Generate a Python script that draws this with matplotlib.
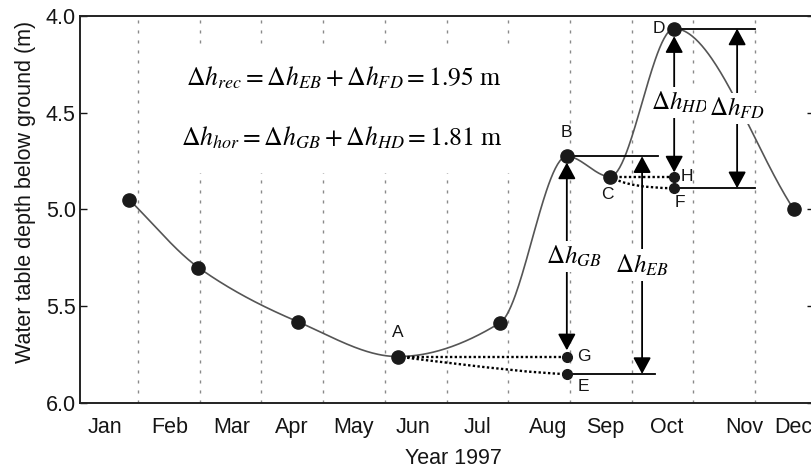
import numpy as np
import matplotlib
matplotlib.use('Agg')
import matplotlib.pyplot as plt
from matplotlib.patches import Rectangle, PathPatch
from matplotlib.path import Path

plt.rcParams['font.family'] = ['Liberation Sans', 'DejaVu Sans']
plt.rcParams['mathtext.fontset'] = 'stix'

# x in month units: 1 = start of Feb, 2 = start of Mar, ...
months = ['Jan', 'Feb', 'Mar', 'Apr', 'May', 'Jun', 'Jul', 'Aug', 'Sep', 'Oct', 'Nov', 'Dec']
month_label_pos = [0.47, 1.52, 2.52, 3.50, 4.49, 5.46, 6.51, 7.65, 8.57, 9.57, 10.82, 11.62]
month_bounds = list(range(1, 12))

# observed water table depth (m)
obs_x = [0.86, 1.98, 3.59, 5.21, 6.87, 7.95, 8.65, 9.69, 11.63]
obs_depth = [4.95, 5.30, 5.58, 5.76, 5.585, 4.725, 4.83, 4.065, 5.00]
iA, iB, iC, iD = 3, 5, 6, 7

# construction points
G = (7.95, 5.76)
E = (7.95, 5.85)
H = (9.69, 4.83)
F = (9.69, 4.89)

formula_rec = r'$\Delta h_{rec} = \Delta h_{EB} + \Delta h_{FD} = 1.95\ \mathrm{m}$'
formula_hor = r'$\Delta h_{hor} = \Delta h_{GB} + \Delta h_{HD} = 1.81\ \mathrm{m}$'


def pchip(x, y, xs):
    x = np.asarray(x, float)
    y = np.asarray(y, float)
    h = np.diff(x)
    d = np.diff(y) / h
    m = np.zeros_like(y)
    for k in range(1, len(x) - 1):
        if d[k - 1] * d[k] > 0:
            w1 = 2 * h[k] + h[k - 1]
            w2 = h[k] + 2 * h[k - 1]
            m[k] = (w1 + w2) / (w1 / d[k - 1] + w2 / d[k])
    m[0] = d[0]
    m[-1] = d[-1]
    idx = np.clip(np.searchsorted(x, xs) - 1, 0, len(x) - 2)
    t = (xs - x[idx]) / h[idx]
    h00 = 2 * t**3 - 3 * t**2 + 1
    h10 = t**3 - 2 * t**2 + t
    h01 = -2 * t**3 + 3 * t**2
    h11 = t**3 - t**2
    return (h00 * y[idx] + h10 * h[idx] * m[idx]
            + h01 * y[idx + 1] + h11 * h[idx] * m[idx + 1])


fig = plt.figure(figsize=(8.11, 4.72), dpi=100)
ax = fig.add_axes([80 / 811, 69 / 472, 734 / 811, 387 / 472])

ax.set_xlim(0.06, 11.956)
ax.set_ylim(6.0, 4.0)

# month grid
ax.set_xticks(month_bounds)
ax.set_xticklabels([])
ax.set_xticks(month_label_pos, minor=True)
ax.set_xticklabels(months, minor=True)
ax.tick_params(axis='x', which='both', length=0, pad=10, labelsize=15.5, colors='#151515')
ax.grid(axis='x', which='major', color='#8a8a8a', lw=1.0, linestyle=(0, (2.2, 5)))
ax.set_axisbelow(True)

ax.set_yticks([4.0, 4.5, 5.0, 5.5, 6.0])
ax.set_yticklabels(['4.0', '4.5', '5.0', '5.5', '6.0'])
ax.tick_params(axis='y', direction='in', length=5, width=1, pad=3, labelsize=15.5,
               right=True, colors='#151515')
for s in ax.spines.values():
    s.set_linewidth(1.4)
    s.set_color('#222')

# white box behind the formulas
ax.add_patch(Rectangle((1.11, 4.15), 6.08, 0.66, fc='white', ec='none', zorder=1))
ax.text(1.77, 4.32, formula_rec, fontsize=18.5, ha='left', va='center', zorder=3)
ax.text(1.69, 4.63, formula_hor, fontsize=18.5, ha='left', va='center', zorder=3)

# smooth hydrograph
xs = np.linspace(obs_x[0], obs_x[-1], 600)
ax.plot(xs, pchip(obs_x, obs_depth, xs), color='#555', lw=1.2, zorder=3)
ax.plot(obs_x, obs_depth, 'o', color='#1a1a1a', ms=9.5, zorder=5)

# extrapolated recession curves (dotted)
xA, yA = obs_x[iA], obs_depth[iA]
xB, yB = obs_x[iB], obs_depth[iB]
xC, yC = obs_x[iC], obs_depth[iC]
xD, yD = obs_x[iD], obs_depth[iD]
dot = dict(color='k', lw=1.7, linestyle=(0, (1.0, 1.0)), zorder=3)
ax.plot([xA, G[0]], [yA, G[1]], **dot)
ax.plot([xC, H[0]], [yC, H[1]], **dot)
for p0, p1, c in [((xA, yA), E, 0.8), ((xC, yC), F, 0.3)]:
    ctrl = (p0[0] + c * (p1[0] - p0[0]), p1[1])
    path = Path([p0, ctrl, p1], [Path.MOVETO, Path.CURVE3, Path.CURVE3])
    ax.add_patch(PathPatch(path, fill=False, **dot))

ax.plot([G[0], E[0], H[0], F[0]], [G[1], E[1], H[1], F[1]], 'o',
        color='#1a1a1a', ms=7, zorder=5)

# horizontal reference lines
ax.plot([xB, 9.43], [yB, yB], color='k', lw=1.3, zorder=3)
ax.plot([E[0], 9.38], [E[1], E[1]], color='k', lw=1.3, zorder=3)
ax.plot([xD, 11.0], [yD, yD], color='k', lw=1.3, zorder=3)
ax.plot([F[0], 11.0], [F[1], F[1]], color='k', lw=1.3, zorder=3)

# difference arrows with labels
arrows = [
    (G[0], yB, G[1], 4.5, 4.5, r'$\Delta h_{GB}$', 5),
    (9.17, yB, E[1], 0, 0, r'$\Delta h_{EB}$', 0),
    (H[0], yD, H[1], 5.5, 3, r'$\Delta h_{HD}$', 4),
    (10.71, yD, F[1], 0, 0, r'$\Delta h_{FD}$', 0),
]
for x, ytop, ybot, sa, sb, lab, dx in arrows:
    ax.annotate('', xy=(x, ybot), xytext=(x, ytop),
                arrowprops=dict(arrowstyle='<|-|>,head_length=0.5,head_width=0.27',
                                mutation_scale=20, lw=1.3, color='k',
                                shrinkA=sa, shrinkB=sb), zorder=4)
    ax.annotate(lab, xy=(x, (ytop + ybot) / 2), xytext=(dx, 0),
                textcoords='offset points', ha='center', va='center', fontsize=18,
                bbox=dict(boxstyle='square,pad=0.12', fc='white', ec='none'), zorder=6)

# point letters
letters = [
    ('A', (xA, yA), (0, 17)),
    ('B', (xB, yB), (0, 17)),
    ('C', (xC, yC), (-2, -13)),
    ('D', (xD, yD), (-11, 0)),
    ('E', E, (12, -9)),
    ('F', F, (4, -10)),
    ('G', G, (12, 0)),
    ('H', H, (9, 0)),
]
for lab, xy, off in letters:
    ax.annotate(lab, xy=xy, xytext=off, textcoords='offset points',
                ha='center', va='center', fontsize=12.5, color='#151515', zorder=6)

fig.text(26 / 811, 1 - 192 / 472, 'Water table depth below ground (m)', rotation=90,
         ha='center', va='center', fontsize=15.5, color='#151515')
fig.text(453 / 811, 1 - 458 / 472, 'Year 1997', ha='center', va='center',
         fontsize=15.5, color='#151515')

fig.savefig('out.png', dpi=100)
